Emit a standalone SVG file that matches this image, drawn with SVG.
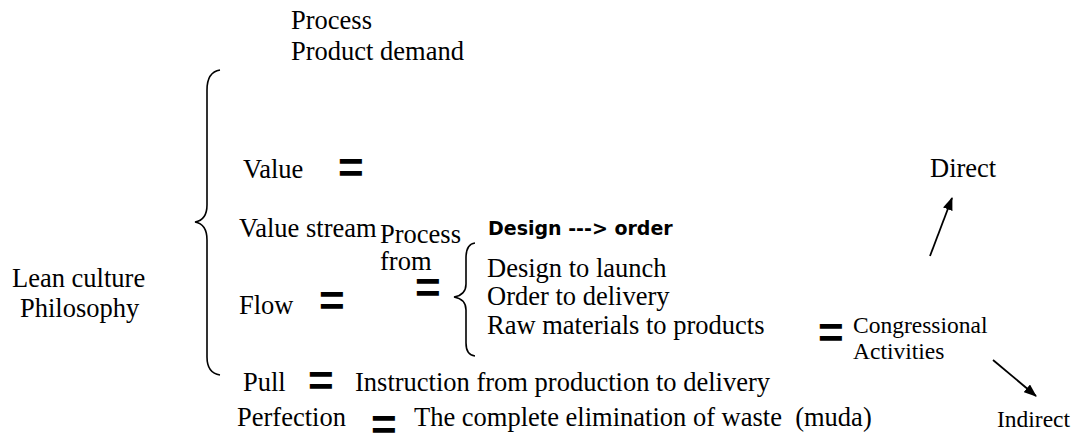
<svg xmlns="http://www.w3.org/2000/svg" width="1077" height="436" viewBox="0 0 1077 436">
<style>
.t{font-family:"Liberation Serif","Times New Roman",serif;font-size:26.5px;fill:#000}
.s{font-family:"Liberation Serif","Times New Roman",serif;font-size:23.5px;fill:#000}
.b{font-family:"DejaVu Sans",Verdana,sans-serif;font-size:19px;font-weight:bold;fill:#000}
.eq{font-family:"Liberation Sans",Arial,sans-serif;font-size:44px;font-weight:bold;fill:#000}
.br{fill:none;stroke:#000;stroke-width:1.6}
.ar{fill:none;stroke:#000;stroke-width:1.8}
</style>
<defs>
<marker id="ah" viewBox="0 0 13 10" refX="12" refY="5" markerWidth="13" markerHeight="10" markerUnits="userSpaceOnUse" orient="auto">
<path d="M0,0 L13,5 L0,10 Z" fill="#000"/>
</marker>
</defs>
<g id="top">
<text class="t" x="291" y="29">Process</text>
<text class="t" x="291" y="60">Product demand</text>
</g>
<g id="lean">
<text class="t" x="12" y="287">Lean culture</text>
<text class="t" x="20" y="317">Philosophy</text>
</g>
<g id="braces">
<path class="br" d="M220,70 Q207,72 207,90 L207,205 Q207,220 195,222 Q207,224 207,240 L207,357 Q207,373 220,375"/>
<path class="br" d="M475,243 Q466,244 466,258 L466,284 Q466,295 454,297 Q466,299 466,310 L466,343 Q466,355 475,356"/>
</g>
<g id="value">
<text class="t" x="243" y="178">Value</text>
<text class="eq" x="338" y="183">=</text>
</g>
<g id="valuestream">
<text class="t" x="239" y="237">Value stream</text>
<text class="t" x="380" y="243">Process</text>
<text class="t" x="380" y="270">from</text>
<text class="eq" x="415" y="303">=</text>
</g>
<g id="design">
<text class="b" x="488" y="235">Design ---&gt; order</text>
<text class="t" x="487" y="277">Design to launch</text>
<text class="t" x="487" y="305">Order to delivery</text>
<text class="t" x="487" y="334">Raw materials to products</text>
</g>
<g id="flow">
<text class="t" x="239" y="314">Flow</text>
<text class="eq" x="319" y="316">=</text>
</g>
<g id="congressional">
<text class="eq" x="818" y="348">=</text>
<text class="s" x="853" y="333">Congressional</text>
<text class="s" x="853" y="359">Activities</text>
</g>
<g id="direct"><text class="t" x="930" y="177">Direct</text></g>
<g id="indirect"><text class="s" x="997" y="427">Indirect</text></g>
<g id="pull">
<text class="t" x="243" y="391">Pull</text>
<text class="eq" x="308" y="396">=</text>
<text class="t" x="355" y="391">Instruction from production to delivery</text>
</g>
<g id="perfection">
<text class="t" x="237" y="426">Perfection</text>
<text class="eq" x="371" y="440">=</text>
<text class="t" x="414" y="426" xml:space="preserve">The complete elimination of waste  (muda)</text>
</g>
<g id="connectors">
<line class="ar" x1="930" y1="256" x2="952" y2="198" marker-end="url(#ah)"/>
<line class="ar" x1="993" y1="360" x2="1036" y2="396" marker-end="url(#ah)"/>
</g>
</svg>
